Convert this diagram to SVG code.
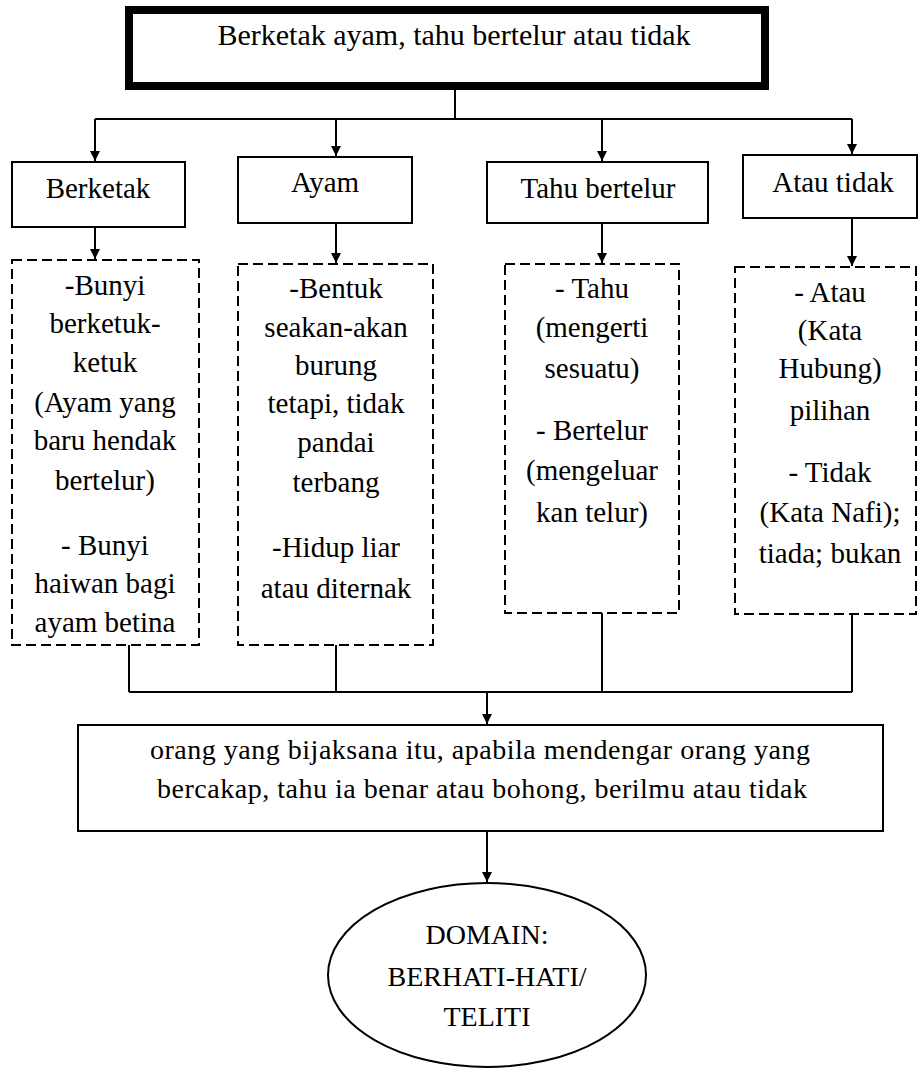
<svg xmlns="http://www.w3.org/2000/svg" width="918" height="1071" viewBox="0 0 918 1071">
<style>
text{font-family:"Liberation Serif","Times New Roman",serif;fill:#000;text-anchor:middle}
.hd{font-size:29px}
.bx{font-size:29px}
.sm{font-size:28px}
.box{fill:#fff;stroke:#000;stroke-width:2}
.dash{fill:#fff;stroke:#000;stroke-width:2;stroke-dasharray:10 5}
.ln{fill:none;stroke:#000;stroke-width:2}
</style>
<defs>
<marker id="ah" viewBox="0 0 10 10" refX="10" refY="5" markerWidth="5" markerHeight="5" orient="auto" markerUnits="strokeWidth">
<path d="M0,0 L10,5 L0,10 Z" fill="#000"/>
</marker>
</defs>
<rect width="918" height="1071" fill="#fff"/>
<g id="connectors">
<path class="ln" d="M455,89 V119 M95,119 H852"/>
<path class="ln" d="M95,119 V161" marker-end="url(#ah)"/>
<path class="ln" d="M336,119 V156" marker-end="url(#ah)"/>
<path class="ln" d="M602,119 V161" marker-end="url(#ah)"/>
<path class="ln" d="M852,119 V154" marker-end="url(#ah)"/>
<path class="ln" d="M95,227 V259" marker-end="url(#ah)"/>
<path class="ln" d="M336,223 V263" marker-end="url(#ah)"/>
<path class="ln" d="M602,223 V263" marker-end="url(#ah)"/>
<path class="ln" d="M852,218 V266" marker-end="url(#ah)"/>
<path class="ln" d="M129,645 V692 M336,645 V692 M602,613 V692 M852,614 V692 M129,692 H852"/>
<path class="ln" d="M487,692 V724" marker-end="url(#ah)"/>
<path class="ln" d="M487,831 V882" marker-end="url(#ah)"/>
</g>
<g id="top">
<rect x="129" y="10" width="636" height="76" fill="#fff" stroke="#000" stroke-width="8"/>
<text x="454" y="45" style="font-size:30px">Berketak ayam, tahu bertelur atau tidak</text>
</g>
<g id="h-berketak">
<rect class="box" x="12" y="162" width="173" height="65"/>
<text class="hd" x="98" y="198">Berketak</text>
</g>
<g id="h-ayam">
<rect class="box" x="238" y="157" width="174" height="66"/>
<text class="hd" x="325" y="192">Ayam</text>
</g>
<g id="h-tahu">
<rect class="box" x="487" y="162" width="221" height="61"/>
<text class="hd" x="598" y="198">Tahu bertelur</text>
</g>
<g id="h-atau">
<rect class="box" x="743" y="155" width="174" height="63"/>
<text class="hd" x="833" y="192">Atau tidak</text>
</g>
<g id="d-berketak">
<rect class="dash" x="12" y="260" width="187" height="385"/>
<text class="bx" x="105" y="295">-Bunyi</text>
<text class="bx" x="105" y="333">berketuk-</text>
<text class="bx" x="105" y="372">ketuk</text>
<text class="bx" x="105" y="412">(Ayam yang</text>
<text class="bx" x="105" y="450">baru hendak</text>
<text class="bx" x="105" y="490">bertelur)</text>
<text class="bx" x="105" y="555">- Bunyi</text>
<text class="bx" x="105" y="593">haiwan bagi</text>
<text class="bx" x="105" y="632">ayam betina</text>
</g>
<g id="d-ayam">
<rect class="dash" x="238" y="264" width="195" height="381"/>
<text class="bx" x="336" y="298">-Bentuk</text>
<text class="bx" x="336" y="337">seakan-akan</text>
<text class="bx" x="336" y="375">burung</text>
<text class="bx" x="336" y="413">tetapi, tidak</text>
<text class="bx" x="336" y="452">pandai</text>
<text class="bx" x="336" y="492">terbang</text>
<text class="bx" x="336" y="557">-Hidup liar</text>
<text class="bx" x="336" y="598">atau diternak</text>
</g>
<g id="d-tahu">
<rect class="dash" x="505" y="264" width="174" height="349"/>
<text class="bx" x="592" y="298">- Tahu</text>
<text class="bx" x="592" y="337">(mengerti</text>
<text class="bx" x="592" y="378">sesuatu)</text>
<text class="bx" x="592" y="440">- Bertelur</text>
<text class="bx" x="592" y="480">(mengeluar</text>
<text class="bx" x="592" y="522">kan telur)</text>
</g>
<g id="d-atau">
<rect class="dash" x="735" y="267" width="181" height="347"/>
<text class="bx" x="830" y="302">-  Atau</text>
<text class="bx" x="830" y="340">(Kata</text>
<text class="bx" x="830" y="378">Hubung)</text>
<text class="bx" x="830" y="420">pilihan</text>
<text class="bx" x="830" y="482">- Tidak</text>
<text class="bx" x="830" y="522">(Kata Nafi);</text>
<text class="bx" x="830" y="563">tiada; bukan</text>
</g>
<g id="summary">
<rect class="box" x="78" y="725" width="805" height="106"/>
<text class="sm" x="480" y="759" textLength="660" lengthAdjust="spacing">orang yang bijaksana  itu,  apabila  mendengar orang yang</text>
<text class="sm" x="482" y="798" textLength="650" lengthAdjust="spacing">bercakap, tahu ia benar atau bohong,  berilmu  atau tidak</text>
</g>
<g id="domain">
<ellipse cx="487" cy="975" rx="159" ry="92" fill="#fff" stroke="#000" stroke-width="2"/>
<text x="487" y="944" style="font-size:28px">DOMAIN:</text>
<text x="487" y="986" style="font-size:28px">BERHATI-HATI/</text>
<text x="487" y="1026" style="font-size:28px">TELITI</text>
</g>
</svg>
